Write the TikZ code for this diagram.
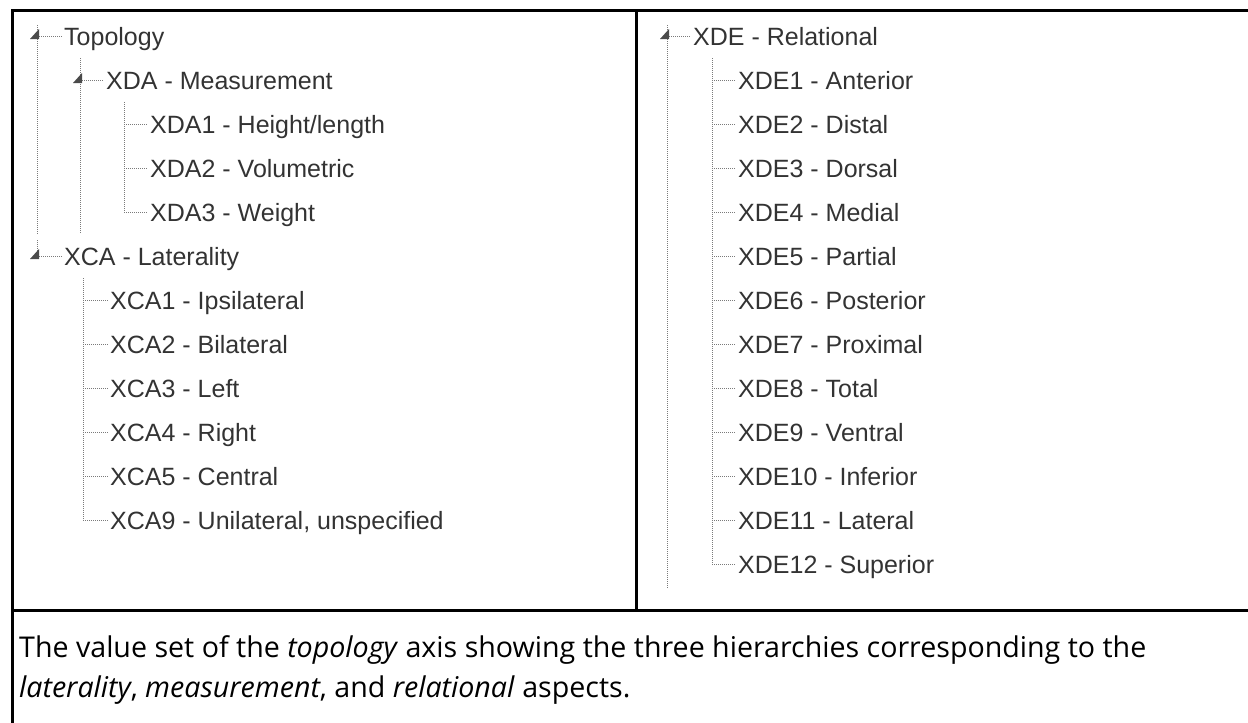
\documentclass[tikz,border=0pt]{standalone}
\usepackage{fontspec}
\setmainfont{Liberation Sans}
\newfontfamily\capfont{Open Sans}
\definecolor{txt}{HTML}{333333}
\definecolor{dots}{HTML}{7A7A7A}
\definecolor{trif}{HTML}{4A4A4A}
\begin{document}
\begin{tikzpicture}[x=1pt,y=-1pt,
  lbl/.style={anchor=base west, inner sep=0pt, text=txt, font=\fontsize{25}{30}\selectfont},
  captext/.style={anchor=base west, inner sep=0pt, text=black, font=\capfont\fontsize{28.6}{34}\selectfont},
  treeline/.style={draw=dots, line width=1pt, dash pattern=on 1pt off 1pt},
  hconn/.style={treeline, shorten >=2pt},
  trimark/.style={fill=trif},
  frame/.style={line width=3pt, draw=black}]
\useasboundingbox (0,0) rectangle (1248,723);

% ---------- frame ----------
\coordinate (fTL) at (12.5,10.5);
\coordinate (fBL) at (12.5,723);
\coordinate (fTR) at (1248,10.5);
\coordinate (fML) at (12.5,610);
\coordinate (fMR) at (1248,610);
\coordinate (dT) at (636,10.5);
\coordinate (dB) at (636,610);
\draw[frame] (fBL) -- (fTL) -- (fTR);
\draw[frame] (fML) -- (fMR);
\draw[frame] (dT) -- (dB);

% ---------- left tree ----------
\node[lbl] (topo) at (64,45) {Topology};
\node[lbl] (xda)  at (106,89) {XDA - Measurement};
\node[lbl] (xda1) at (150,133) {XDA1 - Height/length};
\node[lbl] (xda2) at (150,177) {XDA2 - Volumetric};
\node[lbl] (xda3) at (150,221) {XDA3 - Weight};
\node[lbl] (xca)  at (64,265) {XCA - Laterality};
\node[lbl] (xca1) at (110,309) {XCA1 - Ipsilateral};
\node[lbl] (xca2) at (110,353) {XCA2 - Bilateral};
\node[lbl] (xca3) at (110,397) {XCA3 - Left};
\node[lbl] (xca4) at (110,441) {XCA4 - Right};
\node[lbl] (xca5) at (110,485) {XCA5 - Central};
\node[lbl] (xca9) at (110,529) {XCA9 - Unilateral, unspecified};

% stems and lines
\coordinate (topoS) at (37,36);
\coordinate (topoTop) at (37,25);
\coordinate (topoBot) at (37,234);
\draw[treeline] (topoTop) -- (topoBot);
\draw[hconn] (topoS) -- (topoS -| topo.west);
\fill[trimark] (topoS) ++(-7,3) -- ++(9,0) -- ++(0,-10) -- cycle;

\coordinate (xdaS) at (80,80);
\coordinate (xdaTop) at (80,58);
\coordinate (xdaBot) at (80,234);
\draw[treeline] (xdaTop) -- (xdaBot);
\draw[hconn] (xdaS) -- (xdaS -| xda.west);
\fill[trimark] (xdaS) ++(-7,3) -- ++(9,0) -- ++(0,-10) -- cycle;

\coordinate (xdaLTop) at (124,102);
\coordinate (xdaL1) at (124,124);
\coordinate (xdaL2) at (124,168);
\coordinate (xdaL3) at (124,212);
\draw[treeline] (xdaLTop) -- (xdaL3);
\draw[hconn] (xdaL1) -- (xdaL1 -| xda1.west);
\draw[hconn] (xdaL2) -- (xdaL2 -| xda2.west);
\draw[hconn] (xdaL3) -- (xdaL3 -| xda3.west);

\coordinate (xcaS) at (37,256);
\coordinate (xcaTop) at (37,240);
\draw[treeline] (xcaTop) -- (xcaS);
\draw[hconn] (xcaS) -- (xcaS -| xca.west);
\fill[trimark] (xcaS) ++(-7,3) -- ++(9,0) -- ++(0,-10) -- cycle;

\coordinate (xcaLTop) at (83,278);
\coordinate (xcaL1) at (83,300);
\coordinate (xcaL2) at (83,344);
\coordinate (xcaL3) at (83,388);
\coordinate (xcaL4) at (83,432);
\coordinate (xcaL5) at (83,476);
\coordinate (xcaL9) at (83,520);
\draw[treeline] (xcaLTop) -- (xcaL9);
\draw[hconn] (xcaL1) -- (xcaL1 -| xca1.west);
\draw[hconn] (xcaL2) -- (xcaL2 -| xca2.west);
\draw[hconn] (xcaL3) -- (xcaL3 -| xca3.west);
\draw[hconn] (xcaL4) -- (xcaL4 -| xca4.west);
\draw[hconn] (xcaL5) -- (xcaL5 -| xca5.west);
\draw[hconn] (xcaL9) -- (xcaL9 -| xca9.west);

% ---------- right tree ----------
\node[lbl] (xde)   at (693,45)  {XDE - Relational};
\node[lbl] (xde1)  at (738,89)  {XDE1 - Anterior};
\node[lbl] (xde2)  at (738,133) {XDE2 - Distal};
\node[lbl] (xde3)  at (738,177) {XDE3 - Dorsal};
\node[lbl] (xde4)  at (738,221) {XDE4 - Medial};
\node[lbl] (xde5)  at (738,265) {XDE5 - Partial};
\node[lbl] (xde6)  at (738,309) {XDE6 - Posterior};
\node[lbl] (xde7)  at (738,353) {XDE7 - Proximal};
\node[lbl] (xde8)  at (738,397) {XDE8 - Total};
\node[lbl] (xde9)  at (738,441) {XDE9 - Ventral};
\node[lbl] (xde10) at (738,485) {XDE10 - Inferior};
\node[lbl] (xde11) at (738,529) {XDE11 - Lateral};
\node[lbl] (xde12) at (738,573) {XDE12 - Superior};

\coordinate (xdeS) at (667,36);
\coordinate (xdeTop) at (667,25);
\coordinate (xdeBot) at (667,588);
\draw[treeline] (xdeTop) -- (xdeBot);
\draw[hconn] (xdeS) -- (xdeS -| xde.west);
\fill[trimark] (xdeS) ++(-7,3) -- ++(9,0) -- ++(0,-10) -- cycle;

\coordinate (xdeLTop) at (712,58);
\draw[treeline] (xdeLTop) -- (712,564);
\foreach \i in {1,...,12}{
  \coordinate (xdeL\i) at (712,{36+44*\i});
  \draw[hconn] (xdeL\i) -- (xdeL\i -| xde\i.west);
}

% ---------- caption ----------
\node[captext] (cap1) at (19,657) {The value set of the \textit{topology} axis showing the three hierarchies corresponding to the};
\node[captext] (cap2) at (19,697) {\textit{laterality}, \textit{measurement}, and \textit{relational} aspects.};
\end{tikzpicture}
\end{document}
